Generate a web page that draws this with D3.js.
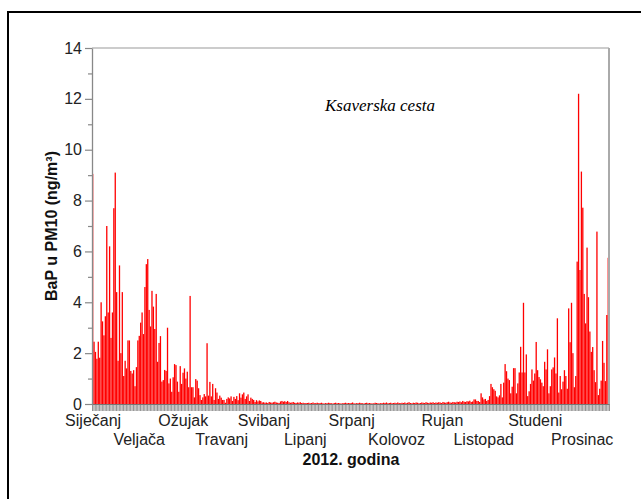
<!DOCTYPE html>
<html><head><meta charset="utf-8">
<script src="https://cdn.jsdelivr.net/npm/d3@7"></script>
<style>
html,body{margin:0;padding:0;background:#fff;}
svg{display:block;}
</style></head>
<body>
<svg id="chart" width="641" height="499"></svg>
<script>
// ---- data (BaP in PM10, ng/m3, daily, 2012) ----
const months = ["Siječanj","Veljača","Ožujak","Travanj","Svibanj","Lipanj","Srpanj","Kolovoz","Rujan","Listopad","Studeni","Prosinac"];
// label anchor position (in day units)
const monthLabelDay = [0.8, 33.4, 64.6, 91.8, 121.7, 151, 183.8, 215.6, 248.1, 277.3, 313.8, 347];
const yTicks = [0,2,4,6,8,10,12,14];
const yMinorTicks = [1,3,5,7,9,11,13];

const jan = [9.05,2.45,2.05,1.78,2.45,1.82,4.0,3.25,2.7,3.45,7.0,3.6,6.2,2.6,3.6,7.7,9.1,4.4,1.7,5.45,2.0,4.4,1.1,1.7,1.4,2.5,2.5,1.3,1.2,1.33,0.7];
const feb = [1.45,2.5,2.68,3.2,3.6,2.75,4.6,5.5,5.7,3.7,3.05,4.45,3.83,2.95,4.33,1.66,2.4,2.67,0.88,0.94,1.34,1.3,3.0,0.81,1.0,0.48,1.05,1.57,1.53];
const mar = [0.88,0.48,1.49,0.79,1.23,1.4,1.0,1.27,0.66,4.25,0.66,0.66,0.26,0.98,0.92,0.62,0.35,0.16,0.26,0.39,0.3,2.39,0.33,0.87,0.3,0.79,0.16,0.62,0.45,0.2,0.33];
const apr = [0.25,0.16,0.16,0.05,0.2,0.26,0.22,0.3,0.12,0.28,0.2,0.31,0.15,0.42,0.25,0.38,0.45,0.2,0.3,0.38,0.12,0.25,0.2,0.16,0.08,0.15,0.1,0.14,0.12,0.06];
const may = [0.07,0.05,0.06,0.04,0.08,0.06,0.05,0.07,0.09,0.06,0.05,0.04,0.1,0.12,0.09,0.11,0.08,0.12,0.07,0.05,0.06,0.08,0.05,0.04,0.06,0.05,0.07,0.04,0.05,0.03,0.04];
const jun = [0.04,0.05,0.03,0.04,0.06,0.03,0.04,0.05,0.03,0.04,0.05,0.03,0.02,0.04,0.03,0.05,0.04,0.03,0.02,0.04,0.05,0.03,0.04,0.03,0.02,0.03,0.04,0.05,0.03,0.04];
const jul = [0.03,0.04,0.06,0.03,0.02,0.04,0.03,0.05,0.04,0.03,0.02,0.04,0.05,0.03,0.04,0.03,0.02,0.03,0.05,0.04,0.03,0.02,0.04,0.03,0.05,0.04,0.06,0.03,0.04,0.05,0.03];
const aug = [0.04,0.05,0.03,0.06,0.04,0.03,0.05,0.04,0.06,0.03,0.05,0.07,0.04,0.03,0.05,0.04,0.06,0.05,0.03,0.04,0.06,0.05,0.04,0.07,0.05,0.04,0.06,0.05,0.07,0.04,0.06];
const sep = [0.05,0.07,0.06,0.04,0.08,0.06,0.05,0.07,0.09,0.06,0.05,0.08,0.07,0.06,0.09,0.08,0.1,0.07,0.12,0.09,0.08,0.11,0.1,0.13,0.08,0.1,0.18,0.18,0.12,0.12];
const oct = [0.08,0.42,0.26,0.18,0.2,0.12,0.16,0.31,0.79,0.66,0.58,0.52,0.3,0.26,0.34,0.79,0.26,0.84,1.57,1.29,1.0,0.94,0.42,0.68,1.41,1.41,0.42,0.81,1.24,2.25,1.24];
const nov = [3.98,1.24,1.95,0.31,0.5,0.79,1.36,0.92,1.2,2.44,1.33,1.06,0.97,0.84,0.7,1.66,1.36,2.15,0.42,0.7,1.36,1.44,1.83,1.2,3.37,0.45,1.1,0.58,0.88,1.33];
const dec = [1.1,0.6,3.76,2.43,3.98,2.0,0.66,1.1,5.6,12.2,5.27,9.14,7.72,4.33,3.17,6.15,4.2,2.85,2.05,2.24,1.33,0.86,6.78,0.35,0.6,0.92,2.48,1.62,0.9,3.5,5.75];

const values = [].concat(jan,feb,mar,apr,may,jun,jul,aug,sep,oct,nov,dec);
const nDays = values.length; // 366

// ---- layout ----
const svg = d3.select("#chart");
const mLeft = 92, mRight = 609, mTop = 48, mBottom = 404;

// outer frame
svg.append("rect").attr("x",8).attr("y",12).attr("width",660).attr("height",520)
  .attr("fill","none").attr("stroke","#000").attr("stroke-width",2);

const x = d3.scaleLinear().domain([0, nDays]).range([mLeft, mRight]);
const y = d3.scaleLinear().domain([0, 14]).range([mBottom, mTop]);

// bars
svg.append("g").selectAll("rect").data(values).join("rect")
  .attr("x", (d,i) => x(i))
  .attr("width", 1.3)
  .attr("y", d => y(d))
  .attr("height", d => y(0) - y(d))
  .attr("fill", "#ff0000");

// plot frame (top & right)
svg.append("line").attr("x1",mLeft).attr("x2",mRight).attr("y1",mTop).attr("y2",mTop)
  .attr("stroke","#999").attr("stroke-width",1.2);
svg.append("line").attr("x1",mRight).attr("x2",mRight).attr("y1",mTop).attr("y2",mBottom)
  .attr("stroke","#aaa").attr("stroke-width",2);

// x axis: a tick per day
const xAxis = d3.axisBottom(x).tickValues(d3.range(0, nDays + 1)).tickFormat("").tickSize(7).tickSizeOuter(0);
const gx = svg.append("g").attr("transform",`translate(0,${mBottom})`).call(xAxis);
gx.select(".domain").attr("stroke","#777").attr("stroke-width",1.2);
gx.selectAll(".tick line").attr("stroke","#777").attr("stroke-width",0.8);

// y axis
const yAxis = d3.axisLeft(y).tickValues(yTicks).tickSize(7).tickSizeOuter(0).tickPadding(3);
const gy = svg.append("g").attr("transform",`translate(${mLeft},0)`).call(yAxis);
gy.select(".domain").attr("stroke","#888").attr("stroke-width",1.3);
gy.selectAll(".tick line").attr("stroke","#888").attr("stroke-width",1.2);
gy.selectAll(".tick text").attr("font-family","'Liberation Sans', Arial, sans-serif")
  .attr("font-size",16).attr("fill","#222");
const yMinor = d3.axisLeft(y).tickValues(yMinorTicks).tickSize(4).tickFormat("").tickSizeOuter(0);
const gym = svg.append("g").attr("transform",`translate(${mLeft},0)`).call(yMinor);
gym.select(".domain").remove();
gym.selectAll(".tick line").attr("stroke","#888").attr("stroke-width",1.2);

// month labels (two alternating rows)
svg.append("g").selectAll("text").data(months).join("text")
  .attr("x", (d,i) => x(monthLabelDay[i]))
  .attr("y", (d,i) => i % 2 === 0 ? 425.5 : 445)
  .attr("text-anchor","middle")
  .attr("font-family","'Liberation Sans', Arial, sans-serif")
  .attr("font-size",16).attr("fill","#222")
  .text(d => d);

// x title
svg.append("text").attr("x",351).attr("y",465).attr("text-anchor","middle")
  .attr("font-family","'Liberation Sans', Arial, sans-serif")
  .attr("font-size",16).attr("font-weight","bold").attr("fill","#111")
  .text("2012. godina");

// y title
svg.append("text").attr("transform","translate(57,226) rotate(-90)")
  .attr("text-anchor","middle")
  .attr("font-family","'Liberation Sans', Arial, sans-serif")
  .attr("font-size",16).attr("font-weight","bold").attr("fill","#111")
  .text("BaP u PM10 (ng/m³)");

// station title
svg.append("text").attr("x",380).attr("y",111).attr("text-anchor","middle")
  .attr("font-family","'Liberation Serif', 'Times New Roman', serif")
  .attr("font-style","italic").attr("font-size",17).attr("fill","#000")
  .text("Ksaverska cesta");
</script>
</body></html>
